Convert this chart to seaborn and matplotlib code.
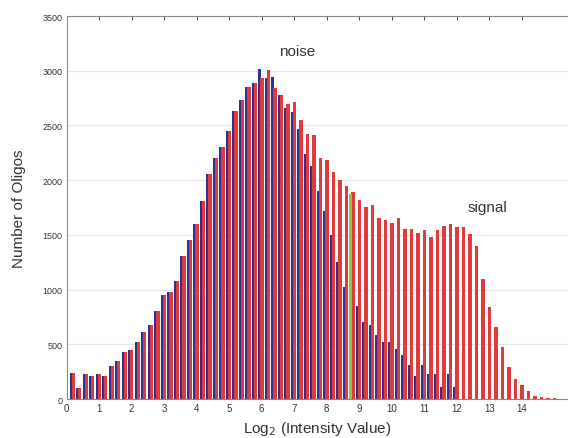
import numpy as np
import pandas as pd
import matplotlib.pyplot as plt
import seaborn as sns

# histogram bins of log2 intensity (width 0.2)
red_bins = np.round(np.arange(1, 76) * 0.2, 1)
blue_bins = red_bins[:60]

# noise (blue) and signal (red) oligo counts per bin
blue_counts = [235, 105, 230, 210, 230, 210, 305, 345, 430, 450,
               525, 610, 680, 800, 950, 975, 1080, 1310, 1455, 1600,
               1813, 2060, 2205, 2300, 2452, 2628, 2735, 2852, 2885,
               3020, 2930, 2940, 2779, 2655, 2620, 2470, 2240, 2130, 1900,
               1720, 1500, 1250, 1020, 900, 853, 700, 676, 585, 524,
               518, 457, 402, 314, 207, 314, 228, 228, 107, 228, 107]
red_counts = [235, 105, 230, 210, 230, 210, 305, 345, 430, 450,
              525, 610, 680, 800, 950, 975, 1080, 1310, 1455, 1600,
              1813, 2060, 2205, 2300, 2452, 2628, 2735, 2852, 2885,
              2930, 3005, 2840, 2779, 2696, 2712, 2553, 2420, 2410, 2200,
              2185, 2075, 2000, 1950, 1895, 1822, 1752, 1773, 1654, 1639,
              1609, 1654, 1554, 1554, 1517, 1548, 1478, 1548, 1584, 1597,
              1569, 1569, 1508, 1401, 1097, 845, 655, 478, 292, 180,
              128, 76, 25, 22, 8, 6]
cutoff_bin = [8.8]
cutoff_count = [1870]

x_ticks = list(range(0, 15))
y_ticks = list(range(0, 3501, 500))

sns.set_style('white')
plt.rcParams['font.family'] = ['Liberation Sans', 'DejaVu Sans']

fig = plt.figure(figsize=(5.68, 4.39), dpi=100)
ax = fig.add_axes([0.1174, 0.0888, 0.8826, 0.8724])

for y in y_ticks[1:]:
    ax.axhline(y, color='#e8e8e8', lw=0.8, zorder=0)

df_blue = pd.DataFrame({'bin': blue_bins - 0.06, 'count': blue_counts})
df_red = pd.DataFrame({'bin': red_bins + 0.005, 'count': red_counts})
df_cut = pd.DataFrame({'bin': np.array(cutoff_bin) - 0.07, 'count': cutoff_count})

sns.barplot(data=df_blue, x='bin', y='count', native_scale=True, orient='x',
            color='#2e3192', saturation=1, width=0.45, linewidth=0,
            errorbar=None, ax=ax)
sns.barplot(data=df_red, x='bin', y='count', native_scale=True, orient='x',
            color='#e03a3a', saturation=1, width=0.5, linewidth=0,
            errorbar=None, ax=ax)
sns.barplot(data=df_cut, x='bin', y='count', native_scale=True, orient='x',
            color='#8dc63f', saturation=1, width=0.09, linewidth=0,
            errorbar=None, ax=ax)

ax.set_xlim(0, 15.42)
ax.set_ylim(0, 3500)
ax.set_xticks(x_ticks)
ax.set_xticklabels([str(t) for t in x_ticks])
ax.set_yticks(y_ticks)
ax.tick_params(axis='both', direction='in', length=3, width=0.6,
               labelsize=6.5, colors='#333333', top=True, pad=3)
ax.tick_params(axis='x', labelsize=7)
for s in ['left', 'bottom', 'top']:
    ax.spines[s].set_color('#888888')
    ax.spines[s].set_linewidth(0.8)
ax.spines['right'].set_visible(False)

ax.set_xlabel('Log$_2$ (Intensity Value)', fontsize=11, color='#333333', labelpad=4)
ax.set_ylabel('Number of Oligos', fontsize=11, color='#333333', labelpad=12)

ax.text(7.1, 3180, 'noise', fontsize=11, ha='center', va='center', color='#333333')
ax.text(12.95, 1755, 'signal', fontsize=11, ha='center', va='center', color='#333333')

fig.savefig('out.png', dpi=100)
